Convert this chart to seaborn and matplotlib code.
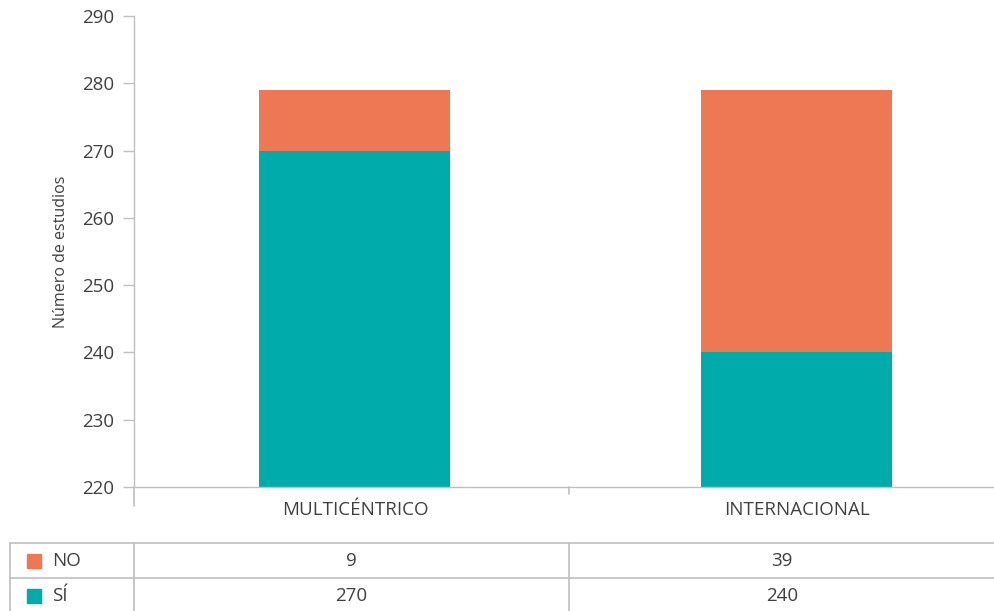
import matplotlib
matplotlib.use("Agg")
import matplotlib.pyplot as plt
import seaborn as sns
from matplotlib.lines import Line2D
from matplotlib.patches import Rectangle

categories = ["MULTICÉNTRICO", "INTERNACIONAL"]
si_values = [270, 240]
no_values = [9, 39]
series_names = ["NO", "SÍ"]
y_ticks = [220, 230, 240, 250, 260, 270, 280, 290]

teal = "#00ACAB"
orange = "#EF7854"
grid_gray = "#BFBFBF"
text_gray = "#404040"

sns.set_style("white")
plt.rcParams["font.family"] = ["Open Sans", "DejaVu Sans"]

W, H = 995, 611
fig = plt.figure(figsize=(W / 100, H / 100), dpi=100)
ax = fig.add_axes([134 / W, (H - 487) / H, (W - 134) / W, (487 - 16) / H])

totals = [s + n for s, n in zip(si_values, no_values)]
sns.barplot(x=categories, y=totals, color=orange, width=0.432, saturation=1,
            linewidth=0, ax=ax)
sns.barplot(x=categories, y=si_values, color=teal, width=0.432, saturation=1,
            linewidth=0, ax=ax)

ax.set_ylim(220, 290)
ax.set_xlim(-0.5, 1.449)
ax.set_yticks(y_ticks)
ax.tick_params(axis="y", length=8, width=1, color=grid_gray, labelsize=13.5,
               labelcolor=text_gray, pad=6, left=True)
ax.set_xticks([])
ax.set_xlabel("")
ax.set_ylabel("Número de estudios", fontsize=11.5, color=text_gray, labelpad=10)

for side in ["top", "right"]:
    ax.spines[side].set_visible(False)
for side in ["left", "bottom"]:
    ax.spines[side].set_color(grid_gray)
    ax.spines[side].set_linewidth(1)
ax.spines["left"].set_bounds(220, 290)

# category labels
for i, c in enumerate(categories):
    ax.text(i, -0.048, c, transform=ax.get_xaxis_transform(), ha="center",
            va="center", fontsize=13.5, color=text_gray)


def px(x, y):
    return x / W, 1 - y / H


def fline(x0, y0, x1, y1):
    (a, b), (c, d) = px(x0, y0), px(x1, y1)
    fig.add_artist(Line2D([a, c], [b, d], color=grid_gray, lw=1.2))


# axis extensions
fline(134, 487, 134, 506)
fline(569, 487, 569, 494)

# data table
row_lines = [543, 578]
for y in row_lines:
    fline(10, y, W, y)
fline(10, 543, 10, H)
fline(134, 543, 134, H)
fline(569, 543, 569, H)

row_centers = [561, 596]
col_centers = [351.5, 782]
rows = [no_values, si_values]
colors = [orange, teal]
for r, name in enumerate(series_names):
    yc = row_centers[r]
    x0, y0 = px(27, yc + 7)
    fig.add_artist(Rectangle((x0, y0), 14 / W, 14 / H, color=colors[r],
                             transform=fig.transFigure))
    fx, fy = px(52, yc)
    fig.text(fx, fy, name, ha="left", va="center", fontsize=13.5, color=text_gray)
    for c, v in enumerate(rows[r]):
        fx, fy = px(col_centers[c], yc)
        fig.text(fx, fy, str(v), ha="center", va="center", fontsize=13.5, color=text_gray)

fig.savefig("out.png", dpi=100)
